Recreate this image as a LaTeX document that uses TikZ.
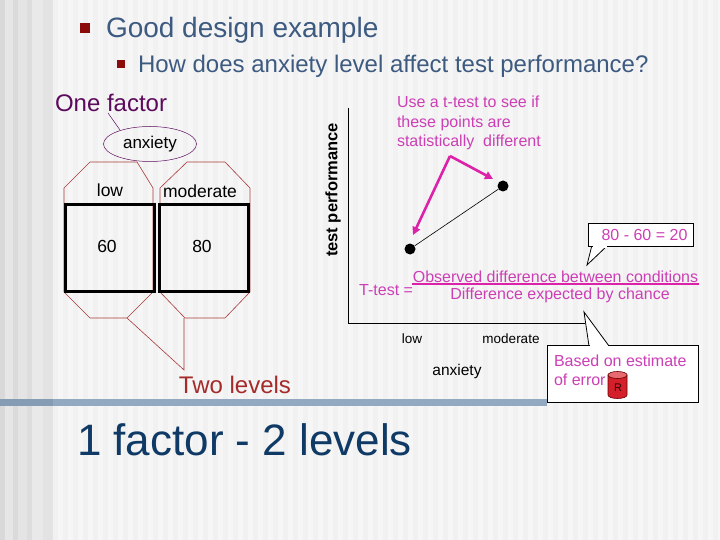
\documentclass[tikz,border=0pt]{standalone}
\usepackage{fontspec}
\setmainfont{Liberation Sans}
\usetikzlibrary{arrows.meta,shapes.geometric,shapes.callouts}
\definecolor{bg}{HTML}{F1F1F1}
\definecolor{bgstripe}{HTML}{F6F6F6}
\definecolor{titleblue}{HTML}{3D5A80}
\definecolor{bulletred}{HTML}{8B0A0A}
\definecolor{factorpurple}{HTML}{5C0A5C}
\definecolor{levelred}{HTML}{A52A2A}
\definecolor{octred}{HTML}{A83A3A}
\definecolor{mag}{HTML}{CC3FB5}
\definecolor{magarrow}{HTML}{DD22AA}
\definecolor{barblue}{HTML}{93A9C1}
\definecolor{barleft}{HTML}{869CB4}
\definecolor{navy}{HTML}{0F3A66}
\definecolor{cylred}{HTML}{D4202A}
\definecolor{cyltop}{HTML}{E86A70}
\definecolor{gA}{HTML}{D9D9D9}
\definecolor{gB}{HTML}{E6E6E6}
\definecolor{gC}{HTML}{DADADA}
\definecolor{gD}{HTML}{E4E4E4}
\definecolor{gE}{HTML}{DDDDDD}
\definecolor{gF}{HTML}{E9E9E9}
\definecolor{gG}{HTML}{E3E3E3}
\tikzset{
  fs/.style={font=\fontsize{#1}{#1}\selectfont},
  plain/.style={inner sep=0pt, outer sep=0pt},
  cellbox/.style={draw=black, line width=3pt},
  octo/.style={draw=octred, line width=0.6pt},
  calloutbox/.style={draw=black, fill=white, line width=0.8pt},
  magtxt/.style={text=mag},
  dotpt/.style={circle, fill=black, minimum size=11pt, inner sep=0pt},
  magarr/.style={draw=magarrow, line width=2.6pt, -{Triangle[length=8pt,width=8pt]}},
}
\begin{document}
\begin{tikzpicture}[x=1pt,y=-1pt]
\useasboundingbox (0,0) rectangle (720,540);
% background
\fill[bg] (0,0) rectangle (720,540);
\foreach \x in {58,68,...,718} \fill[bgstripe] (\x,0) rectangle ++(5,540);
\fill[gA] (0,0) rectangle (5,540);
\fill[gB] (5,0) rectangle (13,540);
\fill[gC] (13,0) rectangle (18,540);
\fill[gD] (18,0) rectangle (27,540);
\fill[gE] (27,0) rectangle (32,540);
\fill[gF] (32,0) rectangle (43,540);
\fill[gG] (43,0) rectangle (53,540);

% title bullets
\fill[bulletred] (80,23) rectangle (90,33);
\node[plain, fs=28, text=titleblue, anchor=base west] (title) at (106,38) {Good design example};
\fill[bulletred] (117,60) rectangle (125,68);
\node[plain, fs=24, text=titleblue, anchor=base west] (subtitle) at (138,72.5) {How does anxiety level affect test performance?};

% left: factor diagram
\node[plain, fs=24, text=factorpurple, anchor=base west] (onefactor) at (55,111.5) {One factor};
\node[draw=factorpurple, line width=0.5pt, ellipse, minimum width=93pt, minimum height=35pt, inner sep=0pt, fs=17] (anx) at (150,144) {anxiety};
\coordinate (ofpt) at (108,113);
\draw[factorpurple, line width=0.5pt] (ofpt) -- (120,130);

% octagons
\draw[octo] (90,162) -- (137,162) -- (153,188) -- (153,292) -- (127,318) -- (90,318) -- (64,292) -- (64,188) -- cycle;
\draw[octo] (187,162) -- (225,162) -- (250,188) -- (250,292) -- (225,318) -- (185,318) -- (160,292) -- (160,188) -- cycle;

% cells
\draw[cellbox] (65,205) rectangle (154.5,291);
\draw[cellbox] (159.5,205) rectangle (248,291);
\node[plain, fs=17.5] (lowL) at (110,190) {low};
\node[plain, fs=17.5] (modL) at (200,191) {moderate};
\node[plain, fs=17.5] (sixty) at (107,246) {60};
\node[plain, fs=17.5] (eighty) at (202,246) {80};

% two levels
\node[plain, fs=24, text=levelred] (twolev) at (235,385) {Two levels};
\coordinate (octLb) at (127,318);
\coordinate (octRb) at (184,318);
\coordinate (tlpt) at (184,370);
\draw[octred, line width=0.6pt] (octLb) -- (tlpt) -- (octRb);

% right: graph
\coordinate (yaxtop) at (348,108);
\coordinate (origin) at (348,323);
\coordinate (xaxend) at (585,323);
\draw[black, line width=1pt] (yaxtop) -- (origin) -- (xaxend);
\node[plain, font=\bfseries\fontsize{16.5}{16.5}\selectfont, rotate=90] (ylab) at (333,190) {test performance};
\node[plain, fs=13.5] (xlow) at (412,339) {low};
\node[plain, fs=13.5] (xmod) at (511,339) {moderate};
\node[plain, fs=15.5] (xlab) at (457,371) {anxiety};

\node[dotpt] (p1) at (410,249) {};
\node[dotpt] (p2) at (503,186) {};
\draw[black, line width=0.6pt] (p1) -- (p2);

\node[plain, magtxt, align=left, anchor=north west, font=\fontsize{16}{19.5}\selectfont] (usetxt) at (397,96) {Use a t-test to see if\\these points are\\statistically\ \ different};
\coordinate (arrsrc) at (450,156);
\coordinate (a1) at (413,235);
\coordinate (a2) at (493,179);
\draw[magarr] (arrsrc) -- (a1);
\draw[magarr] (arrsrc) -- (a2);

% 80 - 60 box
\coordinate (c1tip) at (587,265);
\filldraw[fill=white, draw=black, line width=0.8pt] (592,245) -- (c1tip) -- (608,245);
\node[calloutbox, minimum width=105pt, minimum height=23pt, inner sep=0pt, fs=16, magtxt] (diffbox) at (640.5,234.5) {\hspace*{8pt}80 - 60 = 20};
\fill[white] (593,244) -- (593,247.5) -- (607,247.5) -- (607,244) -- cycle;

% formula
\node[plain, fs=16, magtxt, anchor=east] (ttest) at (413,290) {T-test =};
\node[plain, fs=16, magtxt] (numer) at (555.5,277) {Observed difference between conditions};
\draw[magarrow, line width=2pt] (412,284) -- (699,284);
\node[plain, fs=16, magtxt] (denom) at (560,295) {Difference expected by chance};

% bottom bar
\fill[barblue] (0,399) rectangle (547,406);
\fill[barleft] (0,399) rectangle (53,406);

% error callout
\coordinate (c2tip) at (584,312);
\filldraw[fill=white, draw=black, line width=0.8pt] (589,346) -- (c2tip) -- (609,346);
\node[calloutbox, minimum width=151pt, minimum height=57pt, inner sep=0pt] (errbox) at (622.5,373.5) {};
\fill[white] (590,345) -- (590,348) -- (608,348) -- (608,345) -- cycle;
\node[plain, fs=16, magtxt, anchor=west] (based) at (554,361) {Based on estimate};
\node[plain, fs=16, magtxt, anchor=west] (oferr) at (554,380) {of error};
% cylinder
\filldraw[fill=cylred, draw=black!60!red, line width=0.6pt] (608,375) -- (608,395) arc[start angle=180, end angle=360, x radius=9.5pt, y radius=3.5pt] -- (627,375) -- cycle;
\filldraw[fill=cyltop, draw=black!60!red, line width=0.6pt] (617.5,375) ellipse[x radius=9.5pt, y radius=3.5pt];
\node[plain, fs=11, text=black!80!red] (rlab) at (618,388) {R};

% big footer text
\node[plain, fs=44, text=navy, anchor=base west] (footer) at (77,455) {1 factor - 2 levels};
\end{tikzpicture}
\end{document}
